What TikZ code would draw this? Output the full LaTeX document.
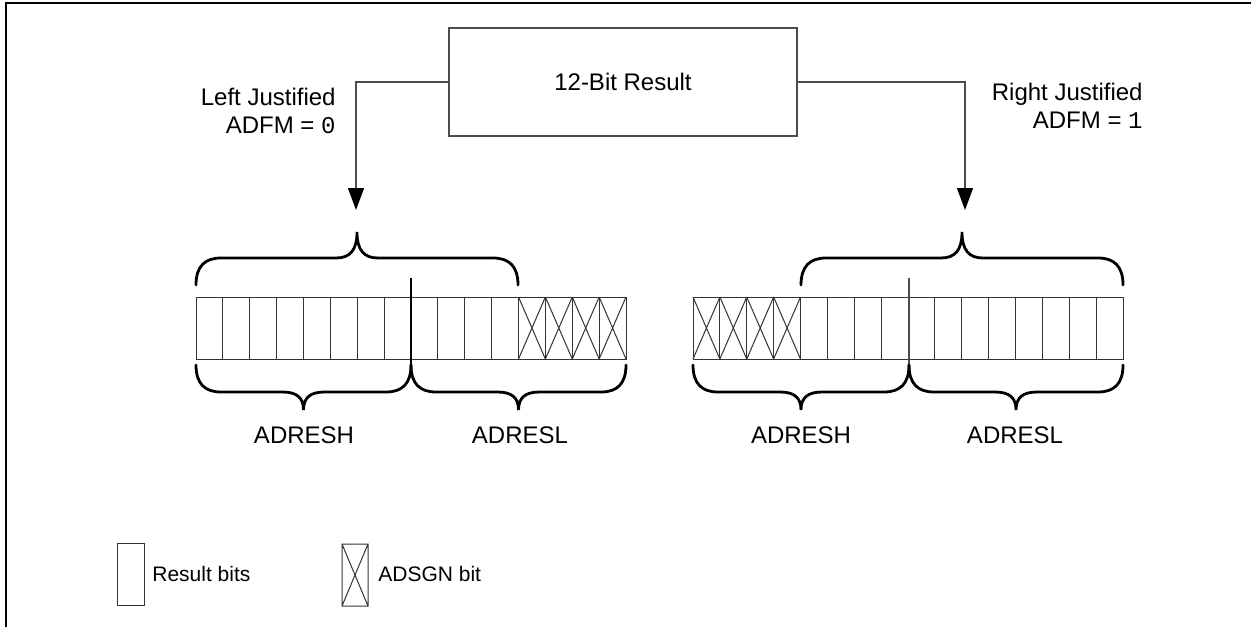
\documentclass[tikz,border=0pt]{standalone}
\usepackage{fontspec}
\setmainfont{Liberation Sans}
\setmonofont{Liberation Mono}
\usetikzlibrary{arrows.meta}

% curly brace: x1, x2, y of ends, y of flat part, y of tip
\newcommand{\curlybrace}[5]{%
  \pgfmathsetmacro{\bxm}{(#1+#2)/2}
  \pgfmathsetmacro{\bya}{#3+0.7*(#4-#3)}
  \pgfmathsetmacro{\byb}{#4+0.3*(#5-#4)}
  \draw[brace] (#1,#3) .. controls (#1,\bya) and (#1+9,#4) .. (#1+25,#4) -- (\bxm-21,#4)
    .. controls (\bxm-7,#4) and (\bxm,\byb) .. (\bxm,#5)
    .. controls (\bxm,\byb) and (\bxm+7,#4) .. (\bxm+21,#4)
    -- (#2-25,#4) .. controls (#2-9,#4) and (#2,\bya) .. (#2,#3);
}

\begin{document}
\begin{tikzpicture}[x=0.5pt, y=-0.5pt,
    every node/.style={inner sep=0pt, font=\fontsize{12}{14}\selectfont},
    cell/.style={draw=black!80, line width=0.5pt},
    brace/.style={line width=1.4pt, line cap=round},
    arrow/.style={draw=black!70, line width=0.6pt, -{Triangle[length=11pt, width=8pt, color=black]}},
    legend/.style={font=\fontsize{10.5}{12}\selectfont, anchor=west}]
  \useasboundingbox (0,0) rectangle (1251,627);
  \draw[line width=1.2pt] (6,627) -- (6,3) -- (1251,3);

  % result box and arrows
  \node[draw=black!70, line width=0.6pt, minimum width=174pt, minimum height=54pt] (res) at (623,82) {12-Bit Result};
  \coordinate (ltip) at (356,210);
  \coordinate (rtip) at (965,210);
  \draw[arrow] (res.west) -| (ltip);
  \draw[arrow] (res.east) -| (rtip);
  \node[anchor=east, align=right] (lj) at (336,111) {Left Justified\\ADFM = {\ttfamily 0}};
  \node[anchor=east, align=right] (rj) at (1143,106) {Right Justified\\ADFM = {\ttfamily 1}};

  % left justified register
  \foreach \i in {0,...,15}
    \draw[cell] ({196+\i*26.875},297) rectangle ++(26.875,62);
  \foreach \i in {12,...,15}
    \draw[cell] ({196+\i*26.875},297) -- ++(26.875,62) ++(0,-62) -- ++(-26.875,62);
  \draw[line width=0.6pt] (411,278) -- (411,373);
  \curlybrace{196}{518}{285}{258}{232}
  \curlybrace{196}{411}{365}{392}{410}
  \curlybrace{411}{626}{365}{392}{410}
  \node (hl) at (304,435) {ADRESH};
  \node (ll) at (520,435) {ADRESL};

  % right justified register
  \foreach \i in {0,...,15}
    \draw[cell] ({693+\i*26.875},297) rectangle ++(26.875,62);
  \foreach \i in {0,...,3}
    \draw[cell] ({693+\i*26.875},297) -- ++(26.875,62) ++(0,-62) -- ++(-26.875,62);
  \draw[draw=black!70, line width=0.6pt] (909,278) -- (909,373);
  \curlybrace{801}{1123}{285}{258}{232}
  \curlybrace{693}{909}{365}{392}{410}
  \curlybrace{909}{1123}{365}{392}{410}
  \node (hr) at (801,435) {ADRESH};
  \node (lr) at (1015,435) {ADRESL};

  % legend
  \draw[cell] (117,543) rectangle (144,605);
  \node[legend] (bits) at (152,574) {Result bits};
  \draw[cell] (342,544) rectangle (368,606) (342,544) -- (368,606) (368,544) -- (342,606);
  \node[legend] (sgn) at (378,574) {ADSGN bit};
\end{tikzpicture}
\end{document}
